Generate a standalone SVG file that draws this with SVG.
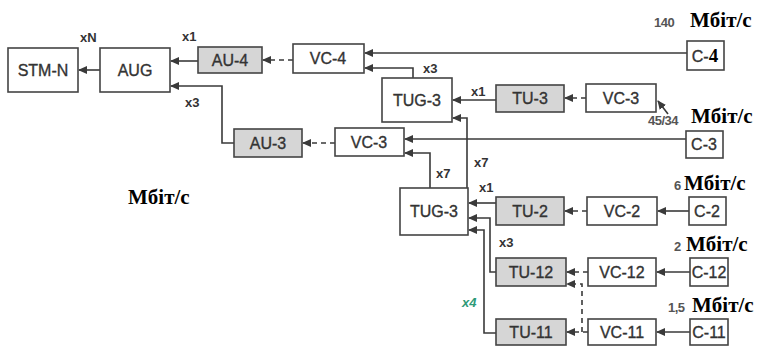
<svg xmlns="http://www.w3.org/2000/svg" width="768" height="348" viewBox="0 0 768 348">
<defs>
<marker id="ah" markerUnits="userSpaceOnUse" markerWidth="9" markerHeight="8" refX="8" refY="4" orient="auto">
<path d="M0,0 L9,4 L0,8 z" fill="#3a3a3a"/>
</marker>
<style>
.b{fill:#fff;stroke:#444;stroke-width:1.6}
.s{fill:#d6d6d6;stroke:#444;stroke-width:1.6}
.t{font-family:"Liberation Sans",Arial,sans-serif;font-size:16px;fill:#333;stroke:#333;stroke-width:0.35;text-anchor:middle}
.l{font-family:"Liberation Sans",Arial,sans-serif;font-size:13px;font-weight:bold;fill:#333}
.n{font-family:"Liberation Sans",Arial,sans-serif;font-size:13px;font-weight:bold;fill:#555;letter-spacing:-0.5px}
.m{font-family:"Liberation Serif","Times New Roman",serif;font-size:21px;font-weight:bold;fill:#000}
.c{fill:none;stroke:#3a3a3a;stroke-width:1.6;marker-end:url(#ah)}
.d{stroke-dasharray:5,4}
</style>
</defs>
<rect width="768" height="348" fill="#fff"/>
<g id="connectors">
<path class="c" d="M100,70 H79"/>
<path class="c" d="M198,61 H171"/>
<path class="c d" d="M293,60 H263"/>
<path class="c" d="M687,53 H365"/>
<path class="c" d="M413,78 V68 H365"/>
<path class="c" d="M234,143 H222 V86 H171"/>
<path class="c d" d="M335,143 H303"/>
<path class="c" d="M686,139 H405"/>
<path class="c" d="M430,188 V153 H405"/>
<path class="c" d="M467,188 V118 H453"/>
<path class="c" d="M496,100 H453"/>
<path class="c d" d="M586,98 H565"/>
<path class="c" d="M668,114 L658,101"/>
<path class="c" d="M496,203 H469"/>
<path class="c d" d="M587,211 H565"/>
<path class="c" d="M689,211 H658"/>
<path class="c" d="M496,272 H490 V218 H469"/>
<path class="c" d="M496,333 H484 V230 H469"/>
<path class="c d" d="M588,272 H567"/>
<path class="c" d="M690,272 H657"/>
<path class="c d" d="M588,332 H567"/>
<path class="c" d="M690,332 H657"/>
<path class="c d" d="M582,332 V284 H567"/>
</g>
<g id="stm-n"><rect class="b" x="8" y="48" width="70" height="44"/><text class="t" x="43" y="76">STM-N</text></g>
<g id="aug"><rect class="b" x="100" y="48" width="70" height="44"/><text class="t" x="135" y="76">AUG</text></g>
<g id="au-4"><rect class="s" x="198" y="47" width="64" height="26"/><text class="t" x="230" y="66">AU-4</text></g>
<g id="vc-4"><rect class="b" x="293" y="44" width="71" height="29"/><text class="t" x="328" y="64">VC-4</text></g>
<g id="tug-3a"><rect class="b" x="382" y="78" width="70" height="44"/><text class="t" x="417" y="106">TUG-3</text></g>
<g id="tu-3"><rect class="s" x="496" y="85" width="68" height="27"/><text class="t" x="530" y="104">TU-3</text></g>
<g id="vc-3a"><rect class="b" x="586" y="84" width="70" height="28"/><text class="t" x="621" y="104">VC-3</text></g>
<g id="c-4"><rect class="b" x="687" y="41" width="37" height="29"/><text class="t" x="705" y="62">C-<tspan font-family="Liberation Serif,serif" font-weight="bold" font-size="19" fill="#000" stroke="none">4</tspan></text></g>
<g id="au-3"><rect class="s" x="234" y="129" width="68" height="28"/><text class="t" x="268" y="149">AU-3</text></g>
<g id="vc-3b"><rect class="b" x="335" y="128" width="69" height="28"/><text class="t" x="369" y="148">VC-3</text></g>
<g id="c-3"><rect class="b" x="686" y="131" width="37" height="27"/><text class="t" x="704" y="150">C-3</text></g>
<g id="tug-3b"><rect class="b" x="400" y="188" width="68" height="47"/><text class="t" x="434" y="217">TUG-3</text></g>
<g id="tu-2"><rect class="s" x="496" y="197" width="68" height="28"/><text class="t" x="530" y="217">TU-2</text></g>
<g id="vc-2"><rect class="b" x="587" y="197" width="70" height="28"/><text class="t" x="622" y="217">VC-2</text></g>
<g id="c-2"><rect class="b" x="689" y="197" width="37" height="28"/><text class="t" x="707" y="217">C-2</text></g>
<g id="tu-12"><rect class="s" x="496" y="258" width="70" height="28"/><text class="t" x="531" y="278">TU-12</text></g>
<g id="vc-12"><rect class="b" x="588" y="258" width="68" height="28"/><text class="t" x="622" y="278">VC-12</text></g>
<g id="c-12"><rect class="b" x="690" y="258" width="38" height="28"/><text class="t" x="709" y="278">C-12</text></g>
<g id="tu-11"><rect class="s" x="496" y="319" width="70" height="26"/><text class="t" x="531" y="338">TU-11</text></g>
<g id="vc-11"><rect class="b" x="588" y="319" width="68" height="26"/><text class="t" x="622" y="338">VC-11</text></g>
<g id="c-11"><rect class="b" x="690" y="319" width="38" height="26"/><text class="t" x="709" y="338">C-11</text></g>
<g id="labels">
<text class="l" x="80" y="42">xN</text>
<text class="l" x="182" y="41">x1</text>
<text class="l" x="185" y="107">x3</text>
<text class="l" x="423" y="73">x3</text>
<text class="l" x="471" y="96">x1</text>
<text class="l" x="436" y="178">x7</text>
<text class="l" x="474" y="167">x7</text>
<text class="l" x="479" y="192">x1</text>
<text class="l" x="499" y="247">x3</text>
<text class="l" x="462" y="307" style="fill:#2e9a78;font-style:italic">x4</text>
<text class="n" x="654" y="27">140</text>
<text class="m" x="690" y="27">Мбіт/с</text>
<text class="n" x="648" y="125">45/34</text>
<text class="m" x="691" y="123">Мбіт/с</text>
<text class="n" x="674" y="190">6</text>
<text class="m" x="684" y="190">Мбіт/с</text>
<text class="n" x="674" y="251">2</text>
<text class="m" x="686" y="251">Мбіт/с</text>
<text class="n" x="668" y="312">1,5</text>
<text class="m" x="692" y="312">Мбіт/с</text>
<text class="m" x="128" y="204">Мбіт/с</text>
</g>
</svg>
